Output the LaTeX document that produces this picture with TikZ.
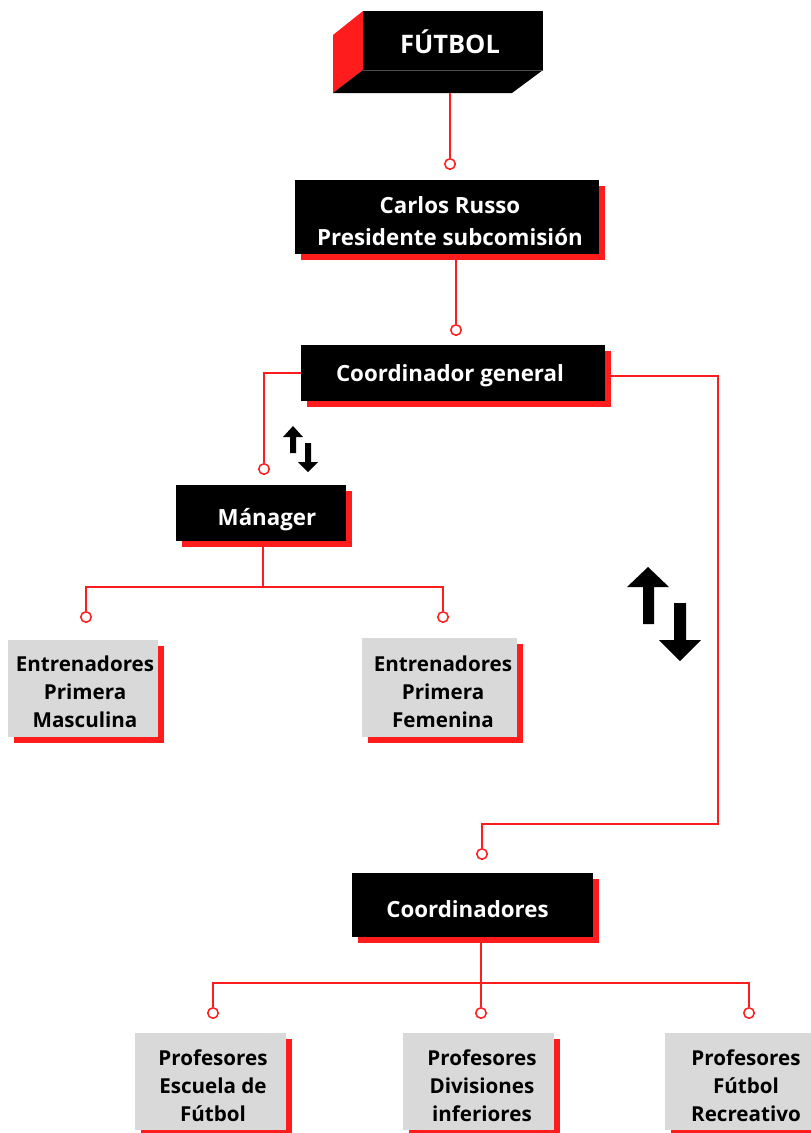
\documentclass[tikz,border=0pt]{standalone}
\usepackage{fontspec}
\setmainfont{Open Sans}
\usetikzlibrary{shadows}
\definecolor{accent}{RGB}{255,28,28}
\definecolor{panel}{RGB}{217,217,217}
\begin{document}
\begin{tikzpicture}[x=1pt,y=-1pt,
  conn/.style={draw=accent, line width=1.5pt},
  dot/.style={circle, draw=accent, fill=white, line width=1.5pt, minimum size=10.5pt, inner sep=0pt},
  redshadow/.style={general shadow={fill=accent, shadow xshift=6pt, shadow yshift=-6pt}},
  headbox/.style={rectangle, fill=black, inner sep=0pt, redshadow},
  unitbox/.style={rectangle, fill=panel, inner sep=0pt, redshadow},
  headtxt/.style={text=white, font=\bfseries\fontsize{22.3}{32}\selectfont, align=center, inner sep=0pt},
  unittxt/.style={text=black, font=\bfseries\fontsize{20.6}{28}\selectfont, align=center, inner sep=0pt},
  blockarrow/.style={fill=black}
]
\useasboundingbox (0,0) rectangle (811,1133);
\clip (0,0) rectangle (811,1133);

% ---- 3D title block
\fill[accent] (333,35) -- (363,11) -- (363,70) -- (333,93) -- cycle;
\fill[black] (363,70) -- (543,70) -- (512,93) -- (333,93) -- cycle;
\node[rectangle, fill=black, minimum width=180pt, minimum height=59pt, inner sep=0pt] (futbol) at (453,40.5) {};
\draw[black!70, line width=0.6pt] (futbol.south west) -- (futbol.south east);
\node[text=white, font=\bfseries\fontsize{25.5}{30}\selectfont, inner sep=0pt] (futboltxt) at (450,42) {FÚTBOL};

% ---- black boxes
\node[headbox, minimum width=304pt, minimum height=74pt] (carlos) at (447,217) {};
\node[headtxt] (carlostxt) at (450,221) {Carlos Russo\\Presidente subcomisión};

\node[headbox, minimum width=304pt, minimum height=56pt] (coord) at (453,373) {};
\node[headtxt] (coordtxt) at (450,376) {Coordinador general};

\node[headbox, minimum width=170pt, minimum height=56pt] (manager) at (261,513) {};
\node[headtxt] (managertxt) at (267,520) {Mánager};

\node[headbox, minimum width=241pt, minimum height=64pt] (coords) at (472.5,905) {};
\node[headtxt] (coordstxt) at (467.5,909) {Coordinadores};

% ---- grey boxes
\node[unitbox, minimum width=150pt, minimum height=97pt] (entmasc) at (83,688.5) {};
\node[unittxt] (entmasctxt) at (85,692) {Entrenadores\\Primera\\Masculina};

\node[unitbox, minimum width=155pt, minimum height=99pt] (entfem) at (439.5,687.5) {};
\node[unittxt] (entfemtxt) at (443,692) {Entrenadores\\Primera\\Femenina};

\node[unitbox, minimum width=151pt, minimum height=97pt] (profesc) at (210.5,1081.5) {};
\node[unittxt] (profesctxt) at (213,1086) {Profesores\\Escuela de\\Fútbol};

\node[unitbox, minimum width=151pt, minimum height=97pt] (profdiv) at (478.5,1081.5) {};
\node[unittxt] (profdivtxt) at (482,1086) {Profesores\\Divisiones\\inferiores};

\node[unitbox, minimum width=151pt, minimum height=97pt] (profrec) at (740.5,1081.5) {};
\node[unittxt] (profrectxt) at (746,1086) {Profesores\\Fútbol\\Recreativo};

% ---- connector end points
\node[dot] (d1) at (450,164) {};
\node[dot] (d2) at (456,330) {};
\node[dot] (d3) at (264,469) {};
\node[dot] (d4) at (482,854) {};
\node[dot] (d5) at (86,617) {};
\node[dot] (d6) at (443,617) {};
\node[dot] (d7) at (213,1013) {};
\node[dot] (d8) at (481,1013) {};
\node[dot] (d9) at (749,1013) {};

\coordinate (futbolbase) at (450,93);
\coordinate (carlosbase) at (456,260);
\coordinate (coordR) at (611,376);
\coordinate (turn) at (718,824);
\coordinate (manbase) at (263,547);
\coordinate (manjoin) at (263,587);
\coordinate (cbase) at (481,942);
\coordinate (cjoin) at (481,983);

% ---- connectors
\draw[conn] (futbolbase) -- (d1);
\draw[conn] (carlosbase) -- (d2);
\draw[conn] (coord.west) -| (d3);
\draw[conn] (coordR) -| (turn) -| (d4);
\draw[conn] (manbase) -- (manjoin);
\draw[conn] (manjoin) -| (d5);
\draw[conn] (manjoin) -| (d6);
\draw[conn] (cbase) -- (d8);
\draw[conn] (cjoin) -| (d7);
\draw[conn] (cjoin) -| (d9);

% ---- exchange arrows (small pair)
\fill[blockarrow] (293,426) -- (303,437) -- (296,437) -- (296,453) -- (290,453) -- (290,437) -- (283,437) -- cycle;
\fill[blockarrow] (308,472) -- (318,462) -- (311,462) -- (311,443) -- (305,443) -- (305,462) -- (298,462) -- cycle;

% ---- exchange arrows (large pair)
\fill[blockarrow] (648,567) -- (669,587) -- (654,587) -- (654,624) -- (643,624) -- (643,587) -- (627,587) -- cycle;
\fill[blockarrow] (680,661) -- (701,640) -- (686,640) -- (686,603) -- (674,603) -- (674,640) -- (659,640) -- cycle;
\end{tikzpicture}
\end{document}
